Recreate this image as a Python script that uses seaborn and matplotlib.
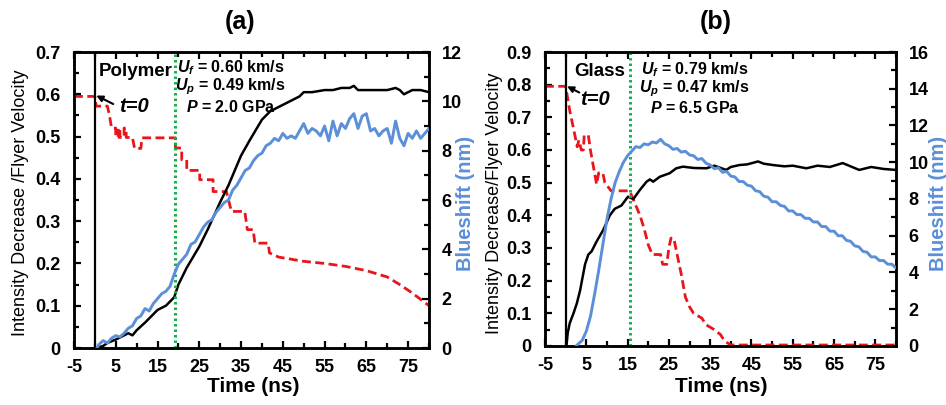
import matplotlib
matplotlib.use("Agg")
import matplotlib.pyplot as plt
import seaborn as sns

# ---------------- panel (a): polymer ----------------
BLACK_A_T = [0.5, 2, 3, 5, 7, 8, 9, 10, 12, 14, 15, 17, 19, 20, 22, 25, 27, 30, 32, 35,
             37, 40, 42, 43, 45, 47, 49, 50, 52, 55, 57, 59, 61, 62, 63, 65, 68, 70, 72,
             73, 74, 76, 78, 80]
BLACK_A_Y = [0.0, 0.005, 0.012, 0.02, 0.03, 0.035, 0.03, 0.042, 0.06, 0.08, 0.09, 0.10,
             0.12, 0.15, 0.19, 0.24, 0.28, 0.345, 0.385, 0.455, 0.49, 0.54, 0.56, 0.565,
             0.575, 0.585, 0.595, 0.605, 0.605, 0.61, 0.61, 0.615, 0.615, 0.62, 0.61, 0.61,
             0.61, 0.61, 0.615, 0.61, 0.60, 0.61, 0.61, 0.605]

BLUE_A_T = [0.5, 1, 2, 3, 4, 5, 6, 7, 8, 9, 10, 11, 12, 13, 14, 15, 16, 17, 18, 19, 20,
            21, 22, 23, 24, 25, 26, 27, 28, 29, 30, 31, 32, 33, 34, 35, 36, 37, 38, 39, 40,
            41, 42, 43, 44, 45, 46, 47, 48, 49, 50, 51, 52, 53, 54, 55, 56, 57, 58, 59, 60,
            61, 62, 63, 64, 65, 66, 67, 68, 69, 70, 71, 72, 73, 74, 75, 76, 77, 78, 79, 80]
BLUE_A_Y = [0.0, 0.15, 0.3, 0.2, 0.4, 0.5, 0.45, 0.6, 0.8, 0.9, 1.2, 1.3, 1.6, 1.5, 1.8,
            2.0, 2.2, 2.3, 2.5, 3.0, 3.4, 3.6, 3.8, 4.2, 4.3, 4.6, 4.9, 5.1, 5.2, 5.5, 5.7,
            5.9, 6.0, 6.4, 6.6, 6.9, 7.2, 7.3, 7.6, 7.8, 7.9, 8.2, 8.3, 8.5, 8.4, 8.7, 8.5,
            8.6, 8.5, 8.8, 9.1, 8.7, 8.9, 8.8, 8.6, 9.0, 8.4, 9.2, 8.6, 9.1, 8.9, 9.3, 9.5,
            8.9, 9.4, 9.5, 8.8, 8.9, 8.6, 8.8, 8.9, 8.3, 9.2, 8.5, 8.2, 8.7, 8.5, 8.8, 8.5,
            8.7, 8.9]

RED_A_T = [-5, 0, 0.3, 3, 3.5, 4, 5, 5, 5.6, 5.6, 6, 6, 7, 7, 7.5, 7.5, 9, 9.5, 11, 11.3,
           19.3, 19.3, 20.8, 20.8, 22, 22, 25.1, 25.1, 28.3, 28.3, 31.5, 32, 32.7, 35.9,
           36.5, 37.9, 38.3, 41.5, 41.8, 44, 50, 55, 60, 65, 70, 73, 76, 78, 80]
RED_A_Y = [0.595, 0.595, 0.572, 0.572, 0.55, 0.52, 0.52, 0.498, 0.498, 0.52, 0.52, 0.498,
           0.498, 0.52, 0.52, 0.498, 0.498, 0.472, 0.472, 0.497, 0.497, 0.473, 0.473, 0.445,
           0.445, 0.42, 0.42, 0.398, 0.398, 0.37, 0.37, 0.35, 0.323, 0.323, 0.28, 0.28,
           0.248, 0.248, 0.225, 0.215, 0.205, 0.2, 0.193, 0.183, 0.168, 0.15, 0.13, 0.115,
           0.10]

# ---------------- panel (b): glass ----------------
BLACK_B_T = [0.2, 0.5, 1, 1.9, 2.7, 3.5, 4.7, 5.5, 6.3, 7.5, 9.1, 10.7, 11.9, 13.5, 15.1,
             16.4, 18.0, 19.6, 20.4, 21.2, 22.8, 25.2, 26.8, 28.4, 31, 34.1, 36, 38.9, 40,
             42.1, 44, 46.6, 48, 50.2, 53, 55, 58.3, 61, 64, 67.1, 69, 71.1, 74, 77, 80]
BLACK_B_Y = [0.0, 0.04, 0.07, 0.10, 0.13, 0.17, 0.25, 0.28, 0.29, 0.32, 0.355, 0.40, 0.42,
             0.43, 0.457, 0.45, 0.478, 0.503, 0.51, 0.503, 0.518, 0.529, 0.544, 0.549, 0.545,
             0.544, 0.552, 0.539, 0.548, 0.554, 0.556, 0.565, 0.558, 0.554, 0.55, 0.552,
             0.544, 0.552, 0.548, 0.56, 0.55, 0.539, 0.548, 0.542, 0.539]

BLUE_B_T = [2.5, 3, 4, 5, 6, 7, 8, 9, 10, 11, 12, 13, 14, 15, 16, 17, 18, 19, 20, 21, 22,
            23, 24, 25, 26, 27, 28, 29, 30, 31, 32, 33, 34, 35, 36, 37, 38, 39, 40, 41, 42,
            43, 44, 45, 46, 47, 48, 49, 50, 51, 52, 53, 54, 55, 56, 57, 58, 59, 60, 61, 62,
            63, 64, 65, 66, 67, 68, 69, 70, 71, 72, 73, 74, 75, 76, 77, 78, 79, 80]
BLUE_B_Y = [0.0, 0.1, 0.3, 0.8, 1.6, 2.8, 4.1, 5.5, 6.9, 8.0, 8.9, 9.5, 10.0, 10.35, 10.6,
            10.85, 10.8, 11.0, 10.95, 11.1, 11.05, 11.25, 11.0, 10.9, 10.7, 10.75, 10.55,
            10.6, 10.4, 10.35, 10.15, 10.2, 9.95, 9.85, 9.65, 9.7, 9.45, 9.5, 9.25, 9.2,
            8.95, 8.95, 8.75, 8.7, 8.45, 8.4, 8.15, 8.1, 7.85, 7.85, 7.65, 7.6, 7.35, 7.35,
            7.15, 7.15, 6.95, 6.95, 6.75, 6.75, 6.5, 6.5, 6.25, 6.25, 6.0, 6.0, 5.75, 5.7,
            5.45, 5.4, 5.15, 5.1, 4.85, 4.85, 4.65, 4.65, 4.45, 4.45, 4.25]

RED_B_T = [-5, 0, 1, 2, 2.8, 3.2, 3.8, 4.3, 4.5, 5.5, 6, 7, 7.5, 8, 9, 9.5, 11, 15.5, 16,
           17, 18, 19, 20, 21, 23, 23.5, 24.5, 25, 25.5, 26.2, 27, 28, 29, 30, 31, 33, 34,
           36, 37.5, 38.5, 40, 80]
RED_B_Y = [0.795, 0.795, 0.72, 0.66, 0.61, 0.63, 0.60, 0.60, 0.645, 0.645, 0.60, 0.53,
           0.495, 0.53, 0.53, 0.50, 0.475, 0.475, 0.46, 0.43, 0.40, 0.36, 0.31, 0.28, 0.28,
           0.25, 0.25, 0.30, 0.33, 0.33, 0.28, 0.22, 0.15, 0.12, 0.10, 0.085, 0.065, 0.05,
           0.035, 0.015, 0.003, 0.003]

PANELS = [
    dict(title="(a)", black=(BLACK_A_T, BLACK_A_Y), blue=(BLUE_A_T, BLUE_A_Y),
         red=(RED_A_T, RED_A_Y), shock=19.3, ymax=0.7, y2max=12,
         ylabel="Intensity Decrease /Flyer Velocity", sample="Polymer",
         sample_xy=(1.0, 0.655), info_x=32.5, info_y=[0.662, 0.617, 0.570],
         info=[r"$U_f$ = 0.60 km/s", r"$U_p$ = 0.49 km/s", r"$P$ = 2.0 GPa"],
         t0_text=(9.3, 0.572), t0_from=(4.4, 0.577), t0_to=(0.35, 0.597)),
    dict(title="(b)", black=(BLACK_B_T, BLACK_B_Y), blue=(BLUE_B_T, BLUE_B_Y),
         red=(RED_B_T, RED_B_Y), shock=15.5, ymax=0.9, y2max=16,
         ylabel="Intensity Decrease/Flyer Velocity", sample="Glass",
         sample_xy=(2.2, 0.84), info_x=31.2, info_y=[0.845, 0.787, 0.73],
         info=[r"$U_f$ = 0.79 km/s", r"$U_p$ = 0.47 km/s", r"$P$ = 6.5 GPa"],
         t0_text=(7.2, 0.756), t0_from=(3.3, 0.776), t0_to=(0.35, 0.795)),
]

BLUE = "#5b8fd8"
RED = "#e8161c"
GREEN = "#17b04a"

sns.set_style("ticks", {"axes.edgecolor": "black", "xtick.color": "black",
                        "ytick.color": "black", "text.color": "black"})
plt.rcParams["font.family"] = ["Liberation Sans", "DejaVu Sans"]
plt.rcParams["axes.unicode_minus"] = False
plt.rcParams["mathtext.fontset"] = "custom"
plt.rcParams["mathtext.rm"] = "Liberation Sans:bold"
plt.rcParams["mathtext.it"] = "Liberation Sans:italic:bold"
plt.rcParams["mathtext.bf"] = "Liberation Sans:bold"

fig = plt.figure(figsize=(9.46, 4.05), dpi=100)
boxes = [[0.0782, 0.1407, 0.3753, 0.7309], [0.5761, 0.1457, 0.3710, 0.7259]]
title_pos = [(240 / 946, 1 - 22 / 405), (716 / 946, 1 - 22 / 405)]
ylab_x = [21 / 946, 494 / 946]
y2lab_x = [465 / 946, 938 / 946]
xlab_x = [253 / 946, 721 / 946]

for p, box, tpos, yl, yl2, xl in zip(PANELS, boxes, title_pos, ylab_x, y2lab_x, xlab_x):
    ax = fig.add_axes(box)
    ax2 = ax.twinx()

    sns.lineplot(x=p["red"][0], y=p["red"][1], ax=ax, color=RED, linewidth=2.0,
                 linestyle=(0, (3.2, 1.6)), sort=False, estimator=None, zorder=3)
    sns.lineplot(x=p["black"][0], y=p["black"][1], ax=ax, color="black", linewidth=1.8,
                 sort=False, estimator=None, zorder=4)
    sns.lineplot(x=p["blue"][0], y=p["blue"][1], ax=ax2, color=BLUE, linewidth=2.1,
                 sort=False, estimator=None, zorder=4)
    ax.axvline(0, color="black", linewidth=1.6, zorder=5)
    ax.axvline(p["shock"], color=GREEN, linewidth=2.2, linestyle=(0, (0.8, 1.0)), zorder=5)

    ax.set_xlim(-5, 80)
    ax.set_ylim(0, p["ymax"])
    ax2.set_ylim(0, p["y2max"])
    ax.set_xticks(list(range(-5, 80, 10)))
    ax.set_xticks(list(range(0, 81, 10)), minor=True)
    n = int(round(p["ymax"] * 10))
    ax.set_yticks([i / 10 for i in range(n + 1)])
    ax.set_yticklabels(["0"] + [f"{i / 10:.1f}" for i in range(1, n + 1)])
    ax.set_yticks([i / 10 + 0.05 for i in range(n)], minor=True)
    ax2.set_yticks(list(range(0, p["y2max"] + 1, 2)))
    ax2.set_yticks(list(range(1, p["y2max"], 2)), minor=True)

    ax.tick_params(axis="both", which="both", direction="in", width=1.6, color="black",
                   top=True, right=False, labelsize=13)
    ax.tick_params(which="major", length=5)
    ax.tick_params(which="minor", length=3.5)
    ax.tick_params(axis="y", pad=10)
    ax.tick_params(axis="x", pad=8)
    ax2.tick_params(axis="y", which="both", direction="in", width=1.6, pad=9,
                    labelsize=13, color="black")
    ax2.tick_params(which="major", length=5)
    ax2.tick_params(which="minor", length=3.5)
    for a in (ax, ax2):
        for lab in a.get_xticklabels() + a.get_yticklabels():
            lab.set_fontweight("bold")
        for s in a.spines.values():
            s.set_linewidth(1.8)
            s.set_color("black")
    ax.set_xlabel("")
    ax.set_ylabel("")
    ax2.set_ylabel("")

    ax.text(p["sample_xy"][0], p["sample_xy"][1], p["sample"], fontsize=13.5,
            fontweight="bold", ha="left", va="center", zorder=6)
    for line, yy in zip(p["info"], p["info_y"]):
        ax.text(p["info_x"], yy, line, fontsize=11.5, fontweight="bold",
                ha="center", va="center", zorder=6)
    ax.text(p["t0_text"][0], p["t0_text"][1], "t=0", fontsize=14.5, fontweight="bold",
            fontstyle="italic", ha="center", va="center", zorder=6)
    ax.annotate("", xy=p["t0_to"], xytext=p["t0_from"],
                arrowprops=dict(arrowstyle="-|>", color="black", lw=1.5,
                                mutation_scale=9, shrinkA=0, shrinkB=0), zorder=6)

    fig.text(tpos[0], tpos[1], p["title"], fontsize=18, fontweight="bold",
             ha="center", va="center")
    fig.text(yl, 1 - 203 / 405, p["ylabel"], fontsize=13, rotation=90,
             ha="center", va="center")
    fig.text(yl2, 1 - 203 / 405, "Blueshift (nm)", fontsize=14.5, fontweight="bold",
             color=BLUE, rotation=90, ha="center", va="center")
    fig.text(xl, 1 - 387 / 405, "Time (ns)", fontsize=15, fontweight="bold",
             ha="center", va="center")

fig.savefig("out.png", dpi=100)
